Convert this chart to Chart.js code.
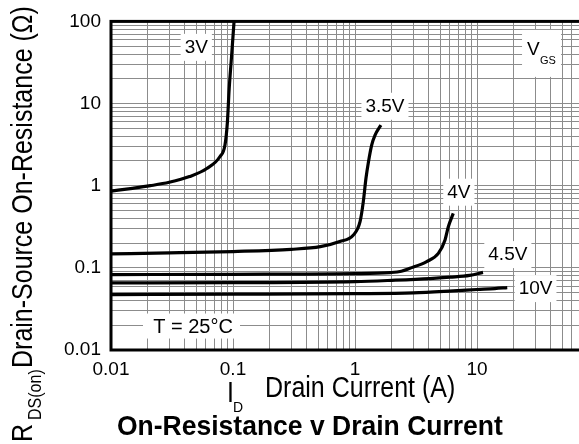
<!DOCTYPE html>
<html lang="en">
<head>
<meta charset="UTF-8">
<title>On-Resistance v Drain Current</title>
<script src="https://cdn.jsdelivr.net/npm/chart.js"></script>
<style>
  html, body { margin: 0; padding: 0; overflow: hidden; background: #fff; }
  canvas { display: block; }
</style>
</head>
<body>
<canvas id="rdsChart" width="620" height="444"></canvas>
<script>
// tick labels on the two log axes
const xTickLabels = ['0.01', '0.1', '1', '10'];
const yTickLabels = ['0.01', '0.1', '1', '10', '100'];

// curves: drain current (A) -> R_DS(on) (ohm)
const id3V = [0.01, 0.015, 0.021, 0.03, 0.044, 0.061, 0.078, 0.086, 0.09, 0.093, 0.0975, 0.102];
const rds3V = [0.86, 0.93, 1.0, 1.1, 1.29, 1.62, 2.25, 3.15, 6.0, 15, 39, 100];

const id35V = [0.01, 0.03, 0.1, 0.3, 0.52, 0.75, 0.97, 1.1, 1.17, 1.23, 1.29, 1.37, 1.46, 1.63];
const rds35V = [0.148, 0.152, 0.158, 0.168, 0.181, 0.209, 0.251, 0.365, 0.64, 1.23, 1.96, 3.12, 4.13, 5.47];

const id4V = [0.01, 0.1, 1, 1.94, 2.4, 2.82, 3.87, 4.82, 5.47, 5.82, 6.39];
const rds4V = [0.0828, 0.0835, 0.085, 0.0876, 0.091, 0.0987, 0.119, 0.150, 0.219, 0.317, 0.46];

const id45V = [0.01, 0.1, 1, 2, 4.1, 6, 8.7, 11.2];
const rds45V = [0.0656, 0.066, 0.068, 0.0705, 0.074, 0.077, 0.081, 0.088];

const id10V = [0.01, 0.1, 1, 3, 6.4, 10, 14, 17.7];
const rds10V = [0.0473, 0.0478, 0.0485, 0.0495, 0.0524, 0.0545, 0.056, 0.0575];

// curve labels (V_GS) and where they sit, in data units
const gateLabels = ['3V', '3.5V', '4V', '4.5V', '10V'];
const gateLabelX = [0.05, 1.76, 7.1, 17.9, 30.2];
const gateLabelY = [49, 9.4, 0.845, 0.147, 0.0567];

const FONT = '"Liberation Sans", Arial, Helvetica, sans-serif';

function zip(xs, ys) {
    return xs.map((x, i) => ({ x: x, y: ys[i] }));
}

function logTicks(scale) {
    const ticks = [];
    const lo = Math.round(Math.log10(scale.min));
    const hi = Math.round(Math.log10(scale.max));
    for (let e = lo; e < hi; e++) {
        for (let m = 1; m < 10; m++) ticks.push({ value: m * Math.pow(10, e) });
    }
    ticks.push({ value: Math.pow(10, hi) });
    scale.ticks = ticks;
}

function pickLabel(list, value) {
    const lab = list.find(l => Math.abs(Number(l) - value) < 1e-6 * value);
    return lab || '';
}

function stretchedText(ctx, text, x, y, sy) {
    ctx.save();
    ctx.translate(x, y);
    ctx.scale(1, sy);
    ctx.fillText(text, 0, 0);
    ctx.restore();
    return ctx.measureText(text).width;
}

const curve = (data) => ({
    data: data,
    borderColor: '#000',
    borderWidth: 3.2,
    pointRadius: 0,
    fill: false,
    cubicInterpolationMode: 'monotone'
});

// labels, frame and axis titles drawn on top
const decorations = {
    id: 'decorations',
    afterDatasetsDraw(chart) {
        const ctx = chart.ctx;
        const xs = chart.scales.x, ys = chart.scales.y;
        const area = chart.chartArea;
        ctx.save();
        ctx.fillStyle = '#000';
        ctx.textBaseline = 'middle';
        ctx.textAlign = 'center';
        ctx.font = '19px ' + FONT;

        // curve labels on white patches
        gateLabels.forEach((txt, i) => {
            const px = xs.getPixelForValue(gateLabelX[i]);
            const py = ys.getPixelForValue(gateLabelY[i]);
            const w = ctx.measureText(txt).width + 8;
            ctx.fillStyle = '#fff';
            ctx.fillRect(px - w / 2, py - 13, w, 27);
            ctx.fillStyle = '#000';
            ctx.fillText(txt, px, py + 1);
        });

        // V_GS legend
        let px = xs.getPixelForValue(28.8), py = ys.getPixelForValue(47.6);
        ctx.fillStyle = '#fff';
        ctx.fillRect(px - 11, py - 18, 39, 47);
        ctx.fillStyle = '#000';
        ctx.textAlign = 'left';
        ctx.textBaseline = 'alphabetic';
        ctx.font = '19px ' + FONT;
        ctx.fillText('V', px - 6, py + 7);
        ctx.font = '11px ' + FONT;
        ctx.fillText('GS', px + 7, py + 16);

        // temperature note
        px = xs.getPixelForValue(0.047); py = ys.getPixelForValue(0.0193);
        ctx.fillStyle = '#fff';
        ctx.fillRect(px - 50, py - 13, 97, 25);
        ctx.fillStyle = '#000';
        ctx.textAlign = 'center';
        ctx.textBaseline = 'middle';
        ctx.font = '20px ' + FONT;
        ctx.fillText('T = 25\u00B0C', px, py + 1);

        // heavy frame
        ctx.lineWidth = 3;
        ctx.strokeStyle = '#000';
        ctx.strokeRect(area.left, area.top, area.right - area.left, area.bottom - area.top);
        ctx.restore();
    },
    afterDraw(chart) {
        const ctx = chart.ctx;
        ctx.save();
        ctx.fillStyle = '#000';
        ctx.textAlign = 'left';
        ctx.textBaseline = 'alphabetic';

        // y title, rotated
        ctx.save();
        ctx.translate(32, 442);
        ctx.rotate(-Math.PI / 2);
        ctx.font = '25px ' + FONT;
        const rw = stretchedText(ctx, 'R', 0, 0, 1.15);
        ctx.font = '16px ' + FONT;
        stretchedText(ctx, 'DS(on)', rw + 4, 9, 1.1);
        ctx.font = '25px ' + FONT;
        stretchedText(ctx, 'Drain-Source On-Resistance (\u03A9)', 74, 0, 1.15);
        ctx.restore();

        // x title
        ctx.font = '25px ' + FONT;
        stretchedText(ctx, 'I', 227, 402, 1.15);
        ctx.font = '14px ' + FONT;
        stretchedText(ctx, 'D', 233, 412, 1.1);
        ctx.font = '25px ' + FONT;
        stretchedText(ctx, 'Drain Current (A)', 265, 397, 1.15);

        // chart title
        ctx.font = 'bold 26.5px ' + FONT;
        stretchedText(ctx, 'On-Resistance v Drain Current', 117, 435, 1.07);
        ctx.restore();
    }
};

const ctx = document.getElementById('rdsChart').getContext('2d');
new Chart(ctx, {
    type: 'line',
    data: {
        datasets: [
            curve(zip(id3V, rds3V)),
            curve(zip(id35V, rds35V)),
            curve(zip(id4V, rds4V)),
            curve(zip(id45V, rds45V)),
            curve(zip(id10V, rds10V))
        ]
    },
    options: {
        responsive: false,
        animation: false,
        devicePixelRatio: 1,
        layout: { padding: { top: 21, right: 21, left: 0, bottom: 0 } },
        plugins: {
            legend: { display: false },
            tooltip: { enabled: false }
        },
        scales: {
            x: {
                type: 'logarithmic',
                min: 0.01,
                max: 100,
                afterBuildTicks: logTicks,
                afterFit: (s) => { s.height = 94; },
                border: { display: false },
                grid: { color: '#8c8c8c', lineWidth: 1, drawTicks: false },
                ticks: {
                    autoSkip: false,
                    maxRotation: 0,
                    padding: 8,
                    color: '#000',
                    font: { family: FONT, size: 19 },
                    callback: (v) => pickLabel(xTickLabels, v)
                }
            },
            y: {
                type: 'logarithmic',
                min: 0.01,
                max: 100,
                afterBuildTicks: logTicks,
                afterFit: (s) => { s.width = 111; },
                border: { display: false },
                grid: { color: '#8c8c8c', lineWidth: 1, drawTicks: false },
                ticks: {
                    autoSkip: false,
                    padding: 10,
                    color: '#000',
                    font: { family: FONT, size: 19 },
                    callback: (v) => pickLabel(yTickLabels, v)
                }
            }
        }
    },
    plugins: [decorations]
});
</script>
</body>
</html>
